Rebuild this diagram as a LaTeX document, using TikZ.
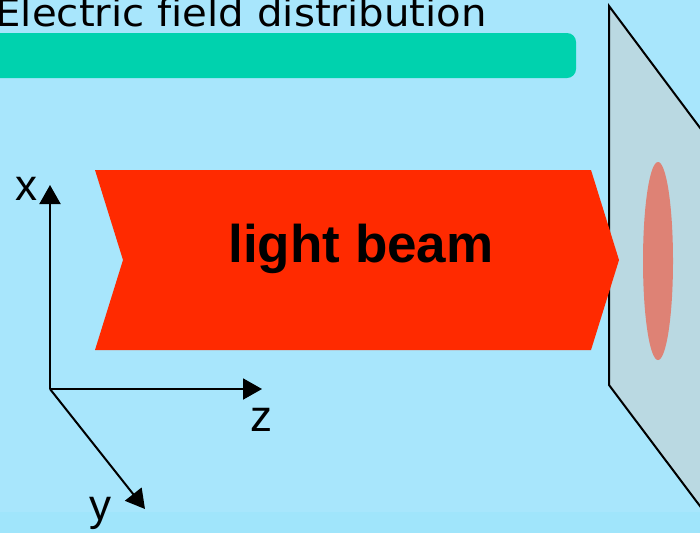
\documentclass[tikz,border=0pt]{standalone}
\usepackage{fontspec}
\setmainfont{Liberation Sans}
\newfontfamily\titlefont[Ligatures=CommonOff]{DejaVu Sans}
\usetikzlibrary{arrows.meta}
\definecolor{bgblue}{RGB}{168,230,252}
\definecolor{bgstrip}{RGB}{160,229,251}
\definecolor{barcol}{RGB}{0,210,174}
\definecolor{planecol}{RGB}{186,217,226}
\definecolor{spotcol}{RGB}{222,130,117}
\definecolor{beamcol}{RGB}{255,42,0}
\tikzset{
  axis/.style={line width=2pt,-{Triangle[width=21pt,length=19pt]}},
  axlabel/.style={inner sep=0pt,font=\fontsize{44}{44}\selectfont},
}
\begin{document}
\begin{tikzpicture}[x=1pt,y=-1pt]
\useasboundingbox (0,0) rectangle (700,533);
\fill[bgblue] (0,0) rectangle (700,533);
\fill[bgstrip] (0,512) rectangle (700,533);
% title
\node[anchor=base east,inner sep=0pt] (title) at (487,26)
  {\scalebox{1.06}[1]{\titlefont\fontsize{38}{38}\selectfont Electric field distribution}};
% green bar
\fill[barcol,rounded corners=9pt] (-20,33) rectangle (576,78);
% plane
\filldraw[fill=planecol,draw=black,line width=2pt,line join=miter]
  (730,168) -- (609,6) -- (609,385) -- (730,546);
\fill[spotcol] (658,261) ellipse [x radius=15, y radius=99];
% beam
\fill[beamcol] (95,170) -- (591,170) -- (619,260) -- (591,350) -- (95,350) -- (123,260) -- cycle;
\node[font=\bfseries\fontsize{53}{53}\selectfont,inner sep=0pt,anchor=base] (beam) at (361,262) {light beam};
% axes
\coordinate (O) at (50,389);
\coordinate (X) at (50,185);
\coordinate (Z) at (262,389);
\coordinate (Y) at (145,509);
\draw[axis] (O) -- (X);
\draw[axis] (O) -- (Z);
\draw[axis] (O) -- (Y);
\node[axlabel] (xl) at (26,189) {x};
\node[axlabel] (zl) at (261,420) {z};
\node[axlabel,anchor=base] (yl) at (100,520) {y};
\end{tikzpicture}
\end{document}
